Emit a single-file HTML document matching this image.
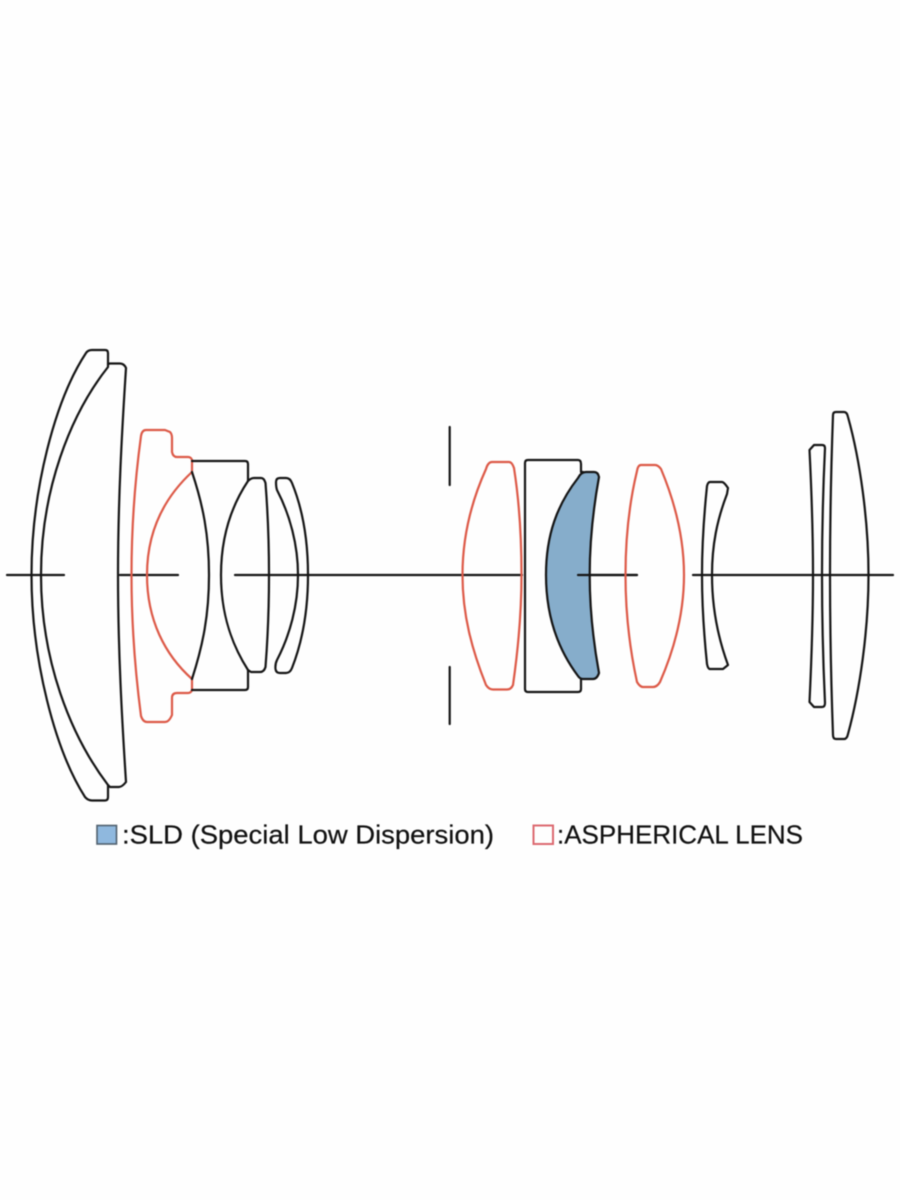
<!DOCTYPE html>
<html>
<head>
<meta charset="utf-8">
<title>Lens construction diagram</title>
<style>
html,body{margin:0;padding:0;background:#fefefe;width:900px;height:1200px;overflow:hidden}
svg{display:block;filter:blur(0.4px)}
.k{fill:none;stroke:#151515;stroke-width:2.2;stroke-linejoin:round;stroke-linecap:round}
.r{fill:none;stroke:#dd5a48;stroke-width:2.2;stroke-linejoin:round;stroke-linecap:round}
text{font-family:"Liberation Sans",sans-serif;font-size:26px;fill:#111;stroke:#111;stroke-width:0.2}
</style>
</head>
<body>
<svg width="900" height="1200" viewBox="0 0 900 1200" xmlns="http://www.w3.org/2000/svg">
<rect width="900" height="1200" fill="#fefefe"/>
<path class="k" d="M7 575H64M120 575H178M235 575H522M578 575H637M693 575H893"/>
<path class="k" d="M449.700 427V485M449.700 667V724"/>

<!-- Lens 1 -->
<path class="k" d="M108 367C70 415 41 490 41 575C41 660 70 735 108 785L108 797Q108 800.500 105 800.500L92 800.500Q88 800.500 85 797C55 750 31.500 660 31.500 575C31.500 490 55 400 86 353Q88 350 92 350L105 350Q108 350 108 353Z"/>
<!-- Lens 2 -->
<path class="k" d="M108 364L110 363.500L120 363.500Q124 363.500 126 368C122 430 118 500 118 575C118 650 122 720 126 782Q122 787 119 787L110 787L108 785"/>
<!-- Lens 3 aspherical -->
<path class="r" d="M192 472C165 497 147 530 147 575C147 620 165 655 192 679L192 690Q191 693 188 693L177 693Q172 693 172 698L172 715Q169 722 165 722L147 722Q143 722 141 716C135 670 131.500 620 131.500 575C131.500 530 135 480 141 436Q142 430 146 430L165 430L170 432Q172 434 172 438L172 452Q173 457 177 457L188 457Q191 457 192 460Z"/>
<!-- Lens 4 -->
<path class="k" d="M192 461L245 461Q248 461 248 464L248 481C232 505 221 535 221 575C221 615 232 645 248 670L248 687Q248 690 245 690L192 690M192 472C203 505 209 535 209 575C209 615 203 645 192 679"/>
<!-- Lens 5 -->
<path class="k" d="M248 481Q251 478 254 478L261 478Q264 478 265.500 483C268 515 269 545 269 575C269 605 268 635 265.500 667Q264 672 260 672L251 672L248 670"/>
<!-- Lens 6 -->
<path class="k" d="M277 490C290 515 298 545 298 575C298 605 290 635 277 660Q275 664 275.500 669Q276 673 280 673L286 673Q290 673 292 668C303 640 308 610 308 575C308 540 303 510 292 483Q290 478 286 478L280 478Q276 478 276 482Q276 487 277 490Z"/>

<!-- Lens 7 aspherical -->
<path class="r" d="M492 462L509 462Q512 462 514 468C519 500 521.500 540 521.500 575C521.500 615 518 650 513 685Q511 689.500 507 689.500L493 689.500Q489 689.500 486 685C472 650 462.500 615 462.500 575C462.500 535 472 500 486 469Q488 462 492 462Z"/>
<!-- Lens 8 -->
<path class="k" d="M583 472L581 472L581 464Q581 460 578 460L528 460Q525 460 525 463L525 689Q525 692 528 692L578 692Q581 692 581 689L581 679"/>
<!-- Lens 9 SLD -->
<path d="M578 676C557 648 546 615 546 575C546 535 557 505 578 478Q581 472 586 472L594 472Q598 472 599 477C593 510 589.700 545 589.700 575C589.700 610 593 640 599 673Q597 679 593 679L583 679Q580 679 578 676Z" fill="#86adcb" stroke="#151515" stroke-width="2.200" stroke-linejoin="round"/>
<!-- axis over blue lens -->
<path class="k" d="M578 575H637"/>
<!-- Lens 10 aspherical -->
<path class="r" d="M641 465L655 465Q658 465 661 469C674 500 684 535 684 575C684 615 674 650 660 682Q657 687 653 687L643 687Q640 687 637 682C630 650 625.500 615 625.500 575C625.500 535 630 500 637 471Q638 465 641 465Z"/>
<!-- Lens 11 -->
<path class="k" d="M710 482L722 482Q724 482 728 488L727 494C717 520 712 545 712 575C712 605 717 635 728 665L723 669L710 669Q708 669 707 664C704 635 702 605 702 575C702 545 704 515 707 486Q708 482 710 482Z"/>
<!-- Lens 12 -->
<path class="k" d="M814 445L822 445Q825 445 825 448C823 490 822 530 822 575C822 620 823 660 825 703Q825 707 822 707L814 707L809.500 702C811.500 660 813 620 813 575C813 530 811.500 490 809.500 450Z"/>
<!-- Lens 13 -->
<path class="k" d="M836 412L844 412Q847 412 848 417C860 460 868.500 520 868.500 575C868.500 630 860 690 848 734Q847 739 844 739L836 739Q833 739 833 735C831 680 830 630 830 575C830 520 831 470 833 415Q833 412 836 412Z"/>

<!-- Legend -->
<rect x="97" y="825.500" width="19.500" height="18.500" fill="#8fb8de" stroke="#50606e" stroke-width="1.600"/>
<text x="122" y="843.500" textLength="372" lengthAdjust="spacingAndGlyphs">:SLD (Special Low Dispersion)</text>
<rect x="533.500" y="825.500" width="19.500" height="18.500" fill="#fefefe" stroke="#dc6a70" stroke-width="2"/>
<text x="557" y="843.500" textLength="246" lengthAdjust="spacingAndGlyphs">:ASPHERICAL LENS</text>
</svg>
</body>
</html>
